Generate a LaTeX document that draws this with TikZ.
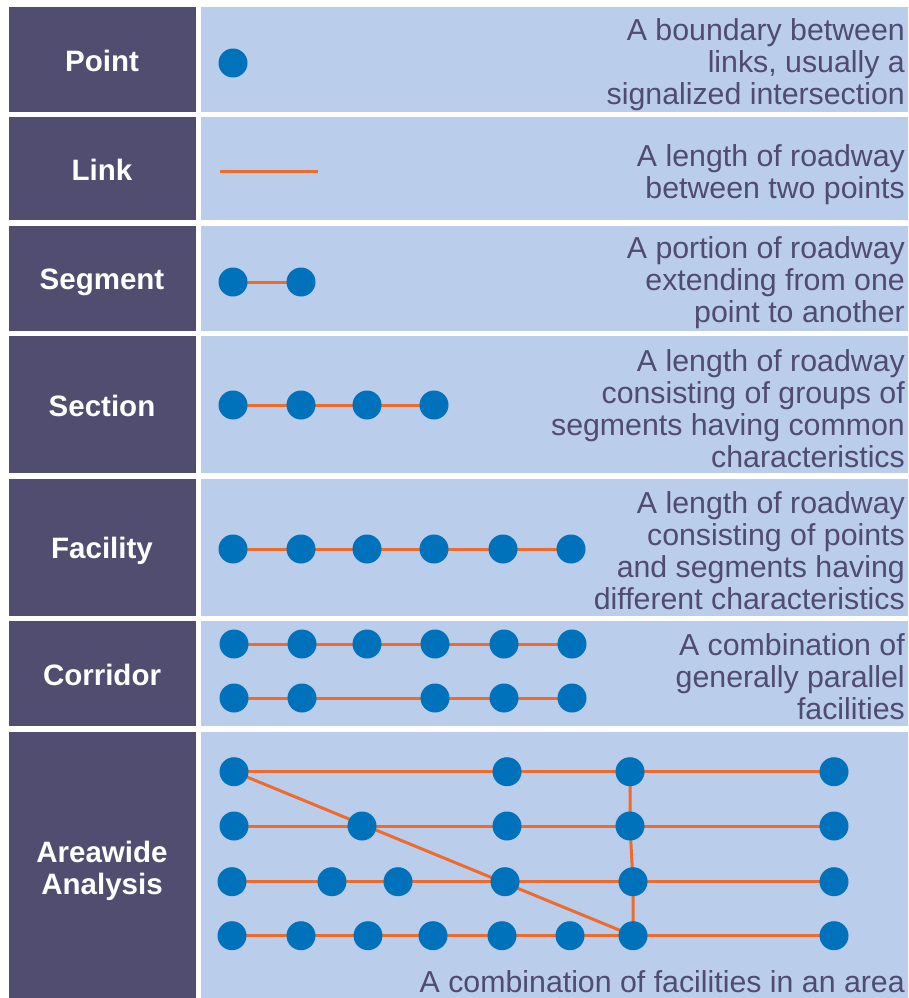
\documentclass[tikz,border=0pt]{standalone}
\usepackage{fontspec}
\setmainfont{Liberation Sans}
\definecolor{labbg}{RGB}{81,77,113}
\definecolor{descbg}{RGB}{186,205,234}
\definecolor{dotc}{RGB}{0,114,188}
\definecolor{roadc}{RGB}{238,106,45}
\definecolor{txtc}{RGB}{80,75,112}
\pgfdeclarelayer{back}
\pgfdeclarelayer{mid}
\pgfsetlayers{back,mid,main}
\tikzset{
  labbox/.style={fill=labbg},
  descbox/.style={fill=descbg},
  lab/.style={text=white,font=\fontsize{29.5}{32}\selectfont\bfseries,align=center,inner sep=0},
  desc/.style={text=txtc,font=\fontsize{30.3}{32}\selectfont,align=right,anchor=east,inner sep=0},
  pt/.style={circle,fill=dotc,minimum size=29pt,inner sep=0},
  road/.style={draw=roadc,line width=3pt},
}
\begin{document}
\begin{tikzpicture}[x=1pt,y=-1pt]
\useasboundingbox (0,0) rectangle (908,998);
\begin{pgfonlayer}{back}
\fill[white] (0,0) rectangle (908,998);
\foreach \t/\b in {7.3/112.3,117.3/220,225.7/331,336/473.3,479/615.7,621/726,731.7/998}{
  \fill[labbox] (8.5,\t) rectangle (195.7,\b);
  \fill[descbox] (201,\t) rectangle (908,\b);
}
\end{pgfonlayer}
% labels
\node[lab] (lPoint) at (102,61) {Point};
\node[lab] (lLink) at (102,170) {Link};
\node[lab] (lSegment) at (102,282) {Segment};
\node[lab] (lSection) at (102,406) {Section};
\node[lab] (lFacility) at (102,551) {Facility};
\node[lab] (lCorridor) at (102,675) {Corridor};
\node[lab] (lArea) at (102,871) {Areawide\\Analysis};
% descriptions
\node[desc] (dPoint) at (905,65) {A boundary between\\links, usually a\\signalized intersection};
\node[desc] (dLink) at (905,175) {A length of roadway\\between two points};
\node[desc] (dSegment) at (905,283) {A portion of roadway\\extending from one\\point to another};
\node[desc] (dSection) at (905,409) {A length of roadway\\consisting of groups of\\segments having common\\characteristics};
\node[desc] (dFacility) at (905,551) {A length of roadway\\consisting of points\\and segments having\\different characteristics};
\node[desc] (dCorridor) at (905,677) {A combination of\\generally parallel\\facilities};
\node[desc] (dArea) at (905,982) {A combination of facilities in an area};
% point
\node[pt] (p1) at (233,63) {};
% link
\coordinate (l1) at (220,171.5);
\coordinate (l2) at (318,171.5);
% segment
\node[pt] (s1) at (233,282) {};
\node[pt] (s2) at (301,282) {};
% section
\foreach \i/\x in {1/233,2/301,3/367,4/434}{\node[pt] (se\i) at (\x,405) {};}
% facility
\foreach \i/\x in {1/233,2/301,3/367,4/434,5/503,6/571}{\node[pt] (f\i) at (\x,549) {};}
% corridor
\foreach \i/\x in {1/234,2/302,3/367,4/435,5/504,6/572}{\node[pt] (ca\i) at (\x,644) {};}
\foreach \i/\x in {1/234,2/302,4/435,5/504,6/572}{\node[pt] (cb\i) at (\x,698) {};}
% areawide
\foreach \i/\x in {1/234,2/507,3/630,4/834}{\node[pt] (a\i) at (\x,771.7) {};}
\foreach \i/\x in {1/234,2/362,3/507,4/630,5/834}{\node[pt] (b\i) at (\x,826) {};}
\foreach \i/\x in {1/232,2/332,3/398,4/505,5/633,6/834}{\node[pt] (c\i) at (\x,881.7) {};}
\foreach \i/\x in {1/232,2/301,3/368,4/433,5/502,6/570,7/633,8/834}{\node[pt] (d\i) at (\x,935.7) {};}
\begin{pgfonlayer}{mid}
\draw[road] (l1) -- (l2);
\draw[road] (s1.center) -- (s2.center);
\draw[road] (se1.center) -- (se2.center) -- (se3.center) -- (se4.center);
\draw[road] (f1.center) -- (f2.center) -- (f3.center) -- (f4.center) -- (f5.center) -- (f6.center);
\draw[road] (ca1.center) -- (ca2.center) -- (ca3.center) -- (ca4.center) -- (ca5.center) -- (ca6.center);
\draw[road] (cb1.center) -- (cb2.center) -- (cb4.center) -- (cb5.center) -- (cb6.center);
\draw[road] (a1.center) -- (a2.center) -- (a3.center) -- (a4.center);
\draw[road] (b1.center) -- (b2.center) -- (b3.center) -- (b4.center) -- (b5.center);
\draw[road] (c1.center) -- (c2.center) -- (c3.center) -- (c4.center) -- (c5.center) -- (c6.center);
\draw[road] (d1.center) -- (d2.center) -- (d3.center) -- (d4.center) -- (d5.center) -- (d6.center) -- (d7.center) -- (d8.center);
\draw[road] (a3.center) -- (b4.center) -- (c5.center) -- (d7.center);
\draw[road] (a1.center) -- (d7.center);
\end{pgfonlayer}
\end{tikzpicture}
\end{document}
